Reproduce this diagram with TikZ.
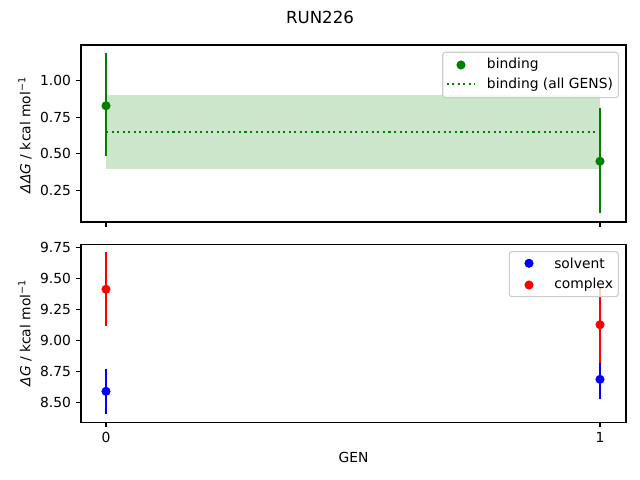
\documentclass[tikz,border=0pt]{standalone}
\usepackage{fontspec}
\setmainfont{DejaVu Sans}
\usetikzlibrary{positioning}
\definecolor{mplgreen}{RGB}{0,128,0}
\definecolor{mplblue}{RGB}{0,0,255}
\definecolor{mplred}{RGB}{255,0,0}
\definecolor{legframe}{RGB}{204,204,204}
\tikzset{font=\fontsize{10}{12}\selectfont}
\tikzset{every node/.append style={transform shape=false}}
\tikzset{
  ebar/.style={line width=1.5pt},
  dot/.style={circle, fill=#1, inner sep=0pt, minimum size=6.6pt},
  spine/.style={line width=0.8pt},
  tickmark/.style={line width=0.8pt},
  legbox/.style={draw=legframe, fill=white, fill opacity=0.8, rounded corners=2pt, line width=0.8pt},
  legtext/.style={anchor=west, inner sep=0pt}
}

\begin{document}
\begin{tikzpicture}[x=0.01in, y=0.01in]
  \useasboundingbox (0,0) rectangle (640,480);

  \draw (320,463) node (title) {\fontsize{12}{14}\selectfont RUN226};

  % top panel: binding
  \begin{scope}[shift={(106,252.5)}, xscale=494, yscale=147.2]
    \fill[mplgreen, opacity=0.2] (0,0.395) rectangle (1,0.90);
    \draw[mplgreen, line width=1.5pt, dash pattern=on 1.5pt off 2.5pt] (0,0.651) -- (1,0.651);
    \draw[ebar, mplgreen] (0,0.488) -- (0,1.183);
    \draw[ebar, mplgreen] (1,0.096) -- (1,0.812);
    \node[dot=mplgreen] (bind0) at (0,0.827) {};
    \node[dot=mplgreen] (bind1) at (1,0.45) {};
  \end{scope}
  \draw[spine] (81,258) rectangle (626,435);
  \foreach \v/\lab in {0.25/0.25, 0.5/0.50, 0.75/0.75, 1/1.00}{
    \draw[tickmark] (81,{252.5+147.2*\v}) -- ++(-4.9,0) node[left] (ytop\lab) {\lab};
  }
  \foreach \x in {106, 600}{
    \draw[tickmark] (\x,258) -- ++(0,-4.9);
  }
  \draw (25,345) node[rotate=90] (ddglab) {\textit{ΔΔG} / kcal mol\textsuperscript{−1}};

  % top legend
  \draw[legbox] (442.7,382.3) rectangle (618.3,427.7);
  \node[dot=mplgreen] (legbind) at (461,415) {};
  \node[legtext] (legbindtxt) at (486.7,415) {binding};
  \draw[mplgreen, line width=1.5pt, dash pattern=on 1.5pt off 2.5pt] (446.7,395.7) -- (475,395.7);
  \node[legtext] (legalltxt) at (486.7,395.7) {binding (all GENS)};

  % bottom panel: solvent and complex
  \begin{scope}[shift={(106,-972.7)}, xscale=494, yscale=123.6]
    \draw[ebar, mplblue] (0,8.406) -- (0,8.770);
    \draw[ebar, mplblue] (1,8.523) -- (1,8.845);
    \node[dot=mplblue] (solv0) at (0,8.587) {};
    \node[dot=mplblue] (solv1) at (1,8.684) {};
    \draw[ebar, mplred] (0,9.118) -- (0,9.714);
    \draw[ebar, mplred] (1,8.819) -- (1,9.434);
    \node[dot=mplred] (cplx0) at (0,9.413) {};
    \node[dot=mplred] (cplx1) at (1,9.126) {};
  \end{scope}
  \draw[spine] (81,57.7) rectangle (626,235.7);
  \foreach \v/\lab in {8.5/8.50, 8.75/8.75, 9/9.00, 9.25/9.25, 9.5/9.50, 9.75/9.75}{
    \draw[tickmark] (81,{139.7+123.6*(\v-9)}) -- ++(-4.9,0) node[left] (ybot\lab) {\lab};
  }
  \foreach \x/\lab in {106/0, 600/1}{
    \draw[tickmark] (\x,57.7) -- ++(0,-4.9) node[below] (xbot\lab) {\lab};
  }
  \draw (25,147) node[rotate=90] (dglab) {\textit{ΔG} / kcal mol\textsuperscript{−1}};
  \draw (353.5,23) node (genlab) {GEN};

  % bottom legend
  \draw[legbox] (509.3,183.3) rectangle (618.3,228.3);
  \node[dot=mplblue] (legsolv) at (529,216.7) {};
  \node[legtext] (legsolvtxt) at (554,216.7) {solvent};
  \node[dot=mplred] (legcplx) at (529,195) {};
  \node[legtext] (legcplxtxt) at (554,195) {complex};
\end{tikzpicture}
\end{document}
